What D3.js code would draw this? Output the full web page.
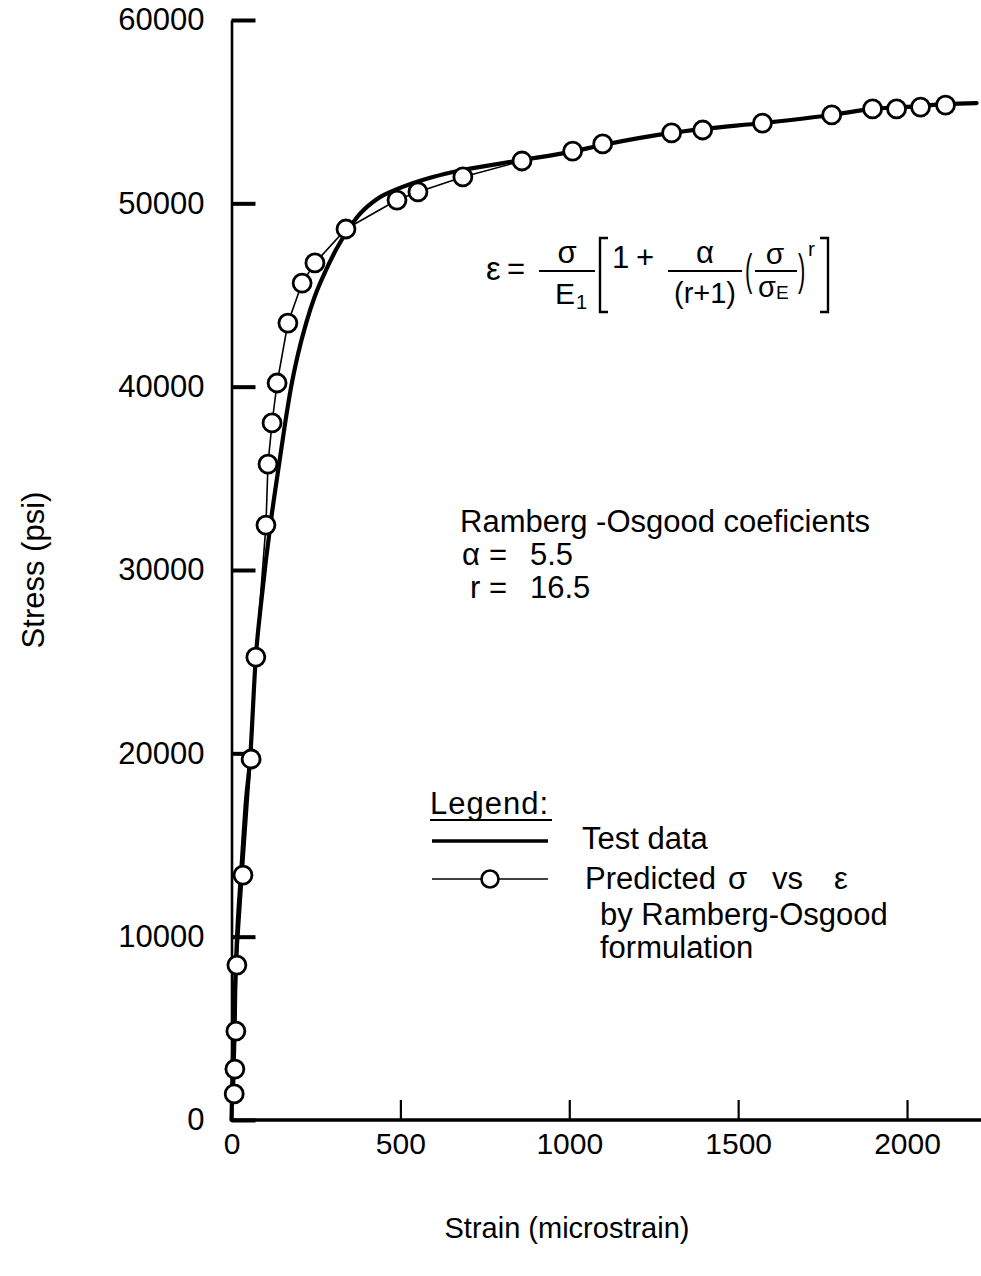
<!DOCTYPE html>
<html>
<head>
<meta charset="utf-8">
<script src="https://cdn.jsdelivr.net/npm/d3@7"></script>
<style>
  html, body { margin: 0; padding: 0; background: #fff; }
  svg { display: block; }
  text { font-family: "Liberation Sans", Arial, Helvetica, sans-serif; fill: #000; }
</style>
</head>
<body>
<svg id="chart" width="981" height="1276"></svg>
<script>
// ---- Data ----
const testStrain = [0, 4, 10, 16, 31, 43, 55, 72, 87, 102, 117, 141, 158, 176, 197, 221, 247, 277, 309, 345, 380, 431, 499, 596, 685, 860, 1016, 1099, 1303, 1395, 1572, 1777, 1898, 2040, 2117, 2206];
const testStress = [0, 3270, 7090, 9820, 14180, 17450, 19690, 25250, 28090, 30550, 32730, 35780, 37910, 39930, 41780, 43470, 44950, 46250, 47450, 48550, 49420, 50240, 50840, 51440, 51820, 52360, 52850, 53180, 53840, 54050, 54380, 54820, 55150, 55310, 55420, 55470];

const predStrain = [8, 10, 13, 16, 34, 58, 72, 102, 108, 120, 135, 167, 209, 247, 339, 490, 552, 685, 860, 1010, 1099, 1303, 1395, 1572, 1777, 1898, 1969, 2040, 2114];
const predStress = [1420, 2780, 4850, 8450, 13360, 19690, 25250, 32450, 35780, 38020, 40200, 43470, 45650, 46750, 48600, 50180, 50620, 51440, 52310, 52850, 53240, 53840, 54000, 54380, 54820, 55150, 55150, 55250, 55360];

const xTicks = [0, 500, 1000, 1500, 2000];
const yTicks = [0, 10000, 20000, 30000, 40000, 50000, 60000];
const xTitle = "Strain (microstrain)";
const yTitle = "Stress (psi)";
const legendTitle = "Legend:";
const legendItems = ["Test data", "Predicted"];
const legendSymbols = ["σ", "vs", "ε"];
const legendExtra = ["by Ramberg-Osgood", "formulation"];
const coefTitle = "Ramberg -Osgood coeficients";
const coefNames = ["α", "r"];
const coefValues = ["5.5", "16.5"];

// ---- Setup ----
const svg = d3.select("#chart");
const x = d3.scaleLinear().domain([0, 2219]).range([231.5, 981]);
const y = d3.scaleLinear().domain([0, 60000]).range([1120, 20]);
const FS = 29;
const FA = 31;

// ---- Axes ----
const xAxis = d3.axisBottom(x).tickValues(xTicks).tickSizeInner(-20).tickSizeOuter(0).tickPadding(13).tickFormat(d3.format("d"));
const gx = svg.append("g").attr("transform", "translate(0,1120)").call(xAxis);
gx.select(".domain").attr("stroke", "#000").attr("stroke-width", 3.5).attr("d", "M231.5,0H981");
gx.selectAll(".tick line").attr("stroke", "#000").attr("stroke-width", 2.2);
gx.selectAll(".tick text").attr("font-size", 30).attr("font-family", "Liberation Sans, Arial, sans-serif");

const yAxis = d3.axisLeft(y).tickValues(yTicks).tickSizeInner(-24).tickSizeOuter(0).tickPadding(27).tickFormat(d3.format("d"));
const gy = svg.append("g").attr("transform", "translate(231.5,0)").call(yAxis);
gy.select(".domain").attr("stroke", "#000").attr("stroke-width", 2.6);
gy.selectAll(".tick line").attr("stroke", "#000").attr("stroke-width", 4);
gy.selectAll(".tick text").attr("font-size", 31).attr("font-family", "Liberation Sans, Arial, sans-serif");

// ---- Axis titles ----
svg.append("text").attr("x", 567).attr("y", 1238).attr("text-anchor", "middle").attr("font-size", FS).text(xTitle);
svg.append("text").attr("transform", "translate(44,570) rotate(-90)").attr("text-anchor", "middle").attr("font-size", 31).text(yTitle);

// ---- Series ----
const testData = testStrain.map((d, i) => [d, testStress[i]]);
const predData = predStrain.map((d, i) => [d, predStress[i]]);

svg.append("path").datum(testData)
  .attr("d", d3.line().x(d => x(d[0])).y(d => y(d[1])).curve(d3.curveMonotoneX))
  .attr("fill", "none").attr("stroke", "#000").attr("stroke-width", 4.2).attr("stroke-linejoin", "round").attr("stroke-linecap", "round");

svg.append("path").datum(predData)
  .attr("d", d3.line().x(d => x(d[0])).y(d => y(d[1])))
  .attr("fill", "none").attr("stroke", "#000").attr("stroke-width", 1.6);

svg.append("g").selectAll("circle").data(predData).join("circle")
  .attr("cx", d => x(d[0])).attr("cy", d => y(d[1])).attr("r", 9)
  .attr("fill", "#fff").attr("stroke", "#000").attr("stroke-width", 2.8);

// ---- Formula ----
const f = svg.append("g");
f.append("text").attr("x", 486).attr("y", 280).attr("font-size", 33).text("ε");
f.append("text").attr("x", 507).attr("y", 279).attr("font-size", 31).text("=");
f.append("text").attr("x", 567).attr("y", 263).attr("text-anchor", "middle").attr("font-size", 31).text("σ");
f.append("line").attr("x1", 539).attr("x2", 595).attr("y1", 271).attr("y2", 271).attr("stroke", "#000").attr("stroke-width", 2);
f.append("text").attr("x", 555).attr("y", 304).attr("font-size", 30).text("E");
f.append("text").attr("x", 576).attr("y", 309).attr("font-size", 20).text("1");
f.append("path").attr("d", "M608,238H600V312H608").attr("fill", "none").attr("stroke", "#000").attr("stroke-width", 2.4);
f.append("text").attr("x", 612).attr("y", 268).attr("font-size", 31).text("1");
f.append("text").attr("x", 636).attr("y", 268).attr("font-size", 31).text("+");
f.append("text").attr("x", 705).attr("y", 263).attr("text-anchor", "middle").attr("font-size", 31).text("α");
f.append("line").attr("x1", 668).attr("x2", 742).attr("y1", 271).attr("y2", 271).attr("stroke", "#000").attr("stroke-width", 2);
f.append("text").attr("x", 705).attr("y", 303).attr("text-anchor", "middle").attr("font-size", 29).text("(r+1)");
f.append("text").attr("x", 745).attr("y", 285).attr("font-size", 44).attr("transform", "translate(745,0) scale(0.5,1) translate(-745,0)").text("(");
f.append("text").attr("x", 775).attr("y", 264).attr("text-anchor", "middle").attr("font-size", 30).text("σ");
f.append("line").attr("x1", 755).attr("x2", 797).attr("y1", 271).attr("y2", 271).attr("stroke", "#000").attr("stroke-width", 2);
f.append("text").attr("x", 758).attr("y", 297).attr("font-size", 29).text("σ");
f.append("text").attr("x", 776).attr("y", 299).attr("font-size", 19).text("E");
f.append("text").attr("x", 798).attr("y", 285).attr("font-size", 44).attr("transform", "translate(798,0) scale(0.5,1) translate(-798,0)").text(")");
f.append("text").attr("x", 808).attr("y", 256).attr("font-size", 21).text("r");
f.append("path").attr("d", "M820,238H828V312H820").attr("fill", "none").attr("stroke", "#000").attr("stroke-width", 2.4);

// ---- Coefficients ----
svg.append("text").attr("x", 460).attr("y", 532).attr("font-size", FA).text(coefTitle);
coefNames.forEach((n, i) => {
  const yy = 565 + i * 33;
  svg.append("text").attr("x", i === 0 ? 462 : 470).attr("y", yy).attr("font-size", FA).text(n);
  svg.append("text").attr("x", 489).attr("y", yy).attr("font-size", FA).text("=");
  svg.append("text").attr("x", 530).attr("y", yy).attr("font-size", FA).text(coefValues[i]);
});

// ---- Legend ----
const lg = svg.append("g");
lg.append("text").attr("x", 430).attr("y", 814).attr("font-size", FA).attr("letter-spacing", 1).text(legendTitle);
lg.append("line").attr("x1", 430).attr("x2", 552).attr("y1", 820).attr("y2", 820).attr("stroke", "#000").attr("stroke-width", 2);
lg.append("line").attr("x1", 432).attr("x2", 548).attr("y1", 841).attr("y2", 841).attr("stroke", "#000").attr("stroke-width", 3.5);
lg.append("text").attr("x", 582).attr("y", 849).attr("font-size", FA).text(legendItems[0]);
lg.append("line").attr("x1", 432).attr("x2", 548).attr("y1", 879).attr("y2", 879).attr("stroke", "#000").attr("stroke-width", 1.5);
lg.append("circle").attr("cx", 490).attr("cy", 879).attr("r", 8.5).attr("fill", "#fff").attr("stroke", "#000").attr("stroke-width", 2.6);
lg.append("text").attr("x", 585).attr("y", 889).attr("font-size", FA).text(legendItems[1]);
[[728, 0], [772, 1], [834, 2]].forEach(([xx, k]) => {
  lg.append("text").attr("x", xx).attr("y", 889).attr("font-size", FA).text(legendSymbols[k]);
});
lg.append("text").attr("x", 600).attr("y", 925).attr("font-size", FA).text(legendExtra[0]);
lg.append("text").attr("x", 600).attr("y", 958).attr("font-size", FA).text(legendExtra[1]);
</script>
</body>
</html>
